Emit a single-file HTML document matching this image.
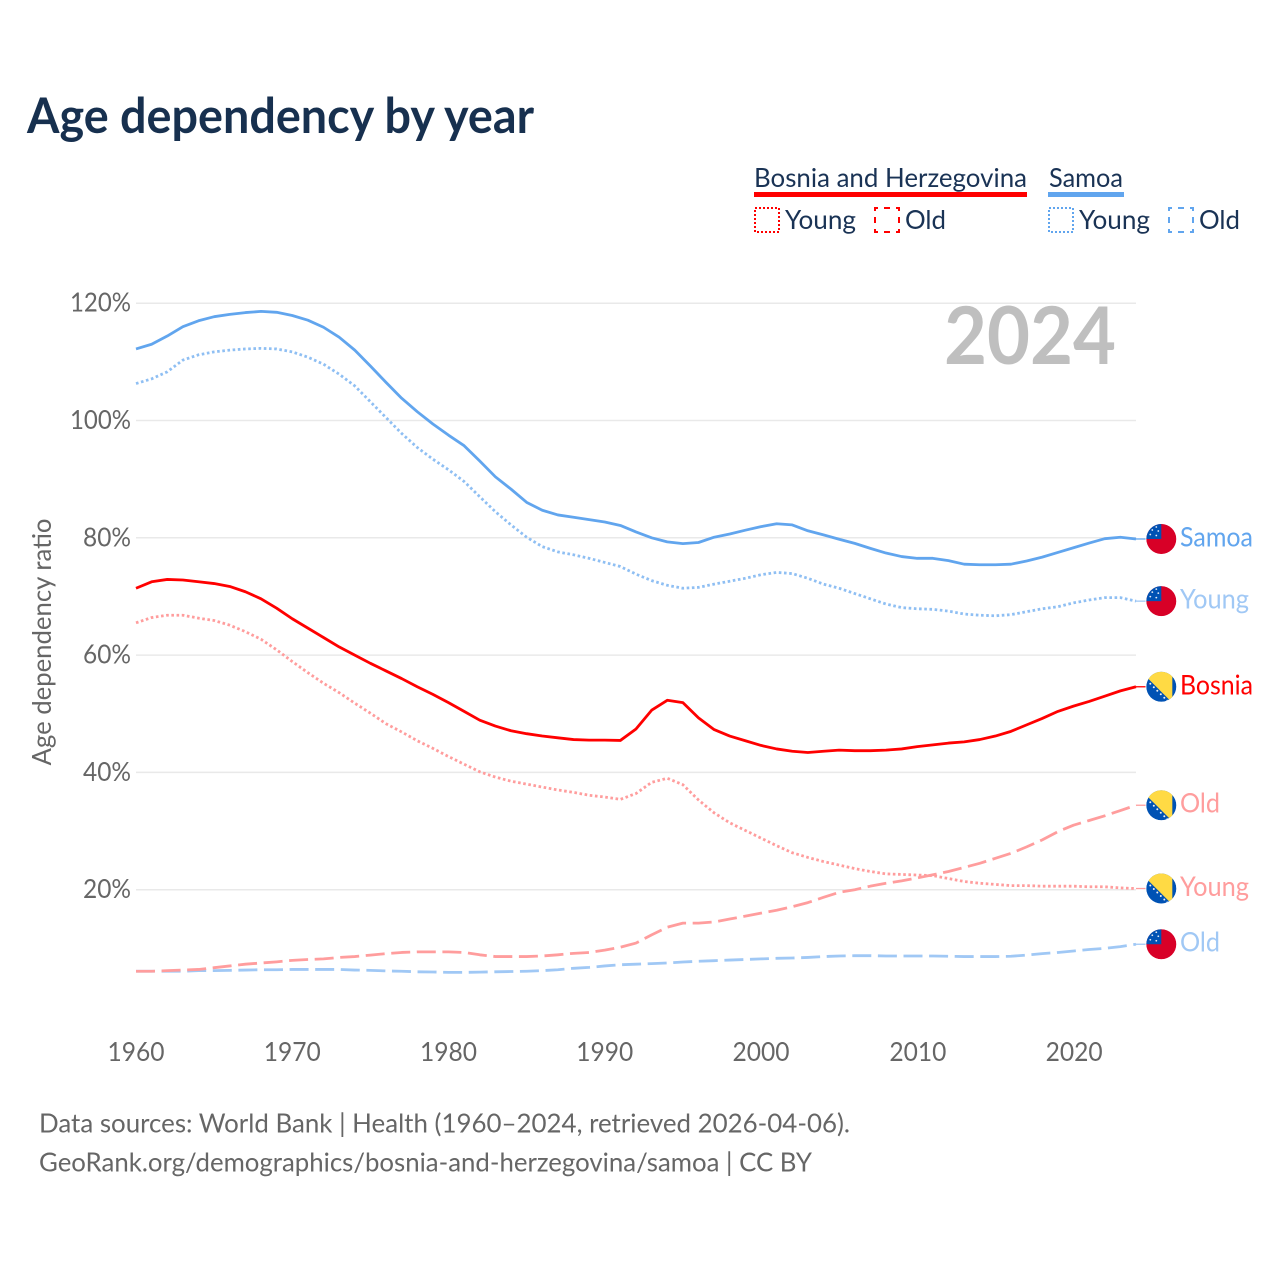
<!DOCTYPE html>
<html lang="en">
<head>
<meta charset="utf-8">
<title>Age dependency by year</title>
<style>
  html, body { margin: 0; padding: 0; background: #fff; }
  svg { display: block; font-family: "Lato", "Carlito", "Liberation Sans", "DejaVu Sans", sans-serif; }
</style>
</head>
<body>
<svg id="chart" xmlns="http://www.w3.org/2000/svg" width="1280" height="1280" viewBox="0 0 1280 1280">
  <rect x="0" y="0" width="1280" height="1280" fill="#ffffff"/>
  <text x="27" y="133" font-size="48.5" font-weight="700" fill="#17304f" textLength="507" lengthAdjust="spacingAndGlyphs">Age dependency by year</text>

  <g>
    <g>
      <text x="754" y="187" font-size="26.5" fill="#1a3355" textLength="273" lengthAdjust="spacingAndGlyphs">Bosnia and Herzegovina</text>
      <rect x="754" y="192" width="273" height="5" fill="#ff0000"/>
      <rect x="755" y="208" width="24" height="24" fill="none" stroke="#ff0000" stroke-width="2" stroke-dasharray="2 2"/>
      <text x="785" y="229" font-size="26.5" fill="#1a3355" textLength="71" lengthAdjust="spacingAndGlyphs">Young</text>
      <rect x="875" y="208" width="24" height="24" fill="none" stroke="#ff0000" stroke-width="2" stroke-dasharray="6 6" stroke-dashoffset="3"/>
      <text x="905" y="229" font-size="26.5" fill="#1a3355" textLength="41" lengthAdjust="spacingAndGlyphs">Old</text>
    </g>
    <g>
      <text x="1049" y="187" font-size="26.5" fill="#1a3355" textLength="74" lengthAdjust="spacingAndGlyphs">Samoa</text>
      <rect x="1048" y="192" width="76" height="5" fill="#61a5ee"/>
      <rect x="1049" y="208" width="24" height="24" fill="none" stroke="#61a5ee" stroke-width="2" stroke-dasharray="2 2"/>
      <text x="1079" y="229" font-size="26.5" fill="#1a3355" textLength="71" lengthAdjust="spacingAndGlyphs">Young</text>
      <rect x="1169" y="208" width="24" height="24" fill="none" stroke="#61a5ee" stroke-width="2" stroke-dasharray="6 6" stroke-dashoffset="3"/>
      <text x="1199" y="229" font-size="26.5" fill="#1a3355" textLength="41" lengthAdjust="spacingAndGlyphs">Old</text>
    </g>
  </g>

  <g id="grid"></g>
  <g id="yaxis"></g>
  <g id="xaxis"></g>
  <text transform="translate(51 642) rotate(-90)" text-anchor="middle" font-size="26.5" fill="#666666" textLength="247" lengthAdjust="spacingAndGlyphs">Age dependency ratio</text>
  <text x="1116" y="364" text-anchor="end" font-size="80" font-weight="700" fill="#bfbfbf" textLength="172" lengthAdjust="spacingAndGlyphs">2024</text>
  <g id="series"></g>
  <g id="endlabels"></g>

  <text x="39" y="1132.5" font-size="26.5" fill="#666666" textLength="811" lengthAdjust="spacingAndGlyphs">Data sources: World Bank | Health (1960–2024, retrieved 2026-04-06).</text>
  <text x="39" y="1171.5" font-size="26.5" fill="#666666" textLength="773" lengthAdjust="spacingAndGlyphs">GeoRank.org/demographics/bosnia-and-herzegovina/samoa | CC BY</text>
</svg>

<script>
const years = [
  1960,1961,1962,1963,1964,1965,1966,1967,1968,1969,
  1970,1971,1972,1973,1974,1975,1976,1977,1978,1979,
  1980,1981,1982,1983,1984,1985,1986,1987,1988,1989,
  1990,1991,1992,1993,1994,1995,1996,1997,1998,1999,
  2000,2001,2002,2003,2004,2005,2006,2007,2008,2009,
  2010,2011,2012,2013,2014,2015,2016,2017,2018,2019,
  2020,2021,2022,2023,2024
];
const bosniaTotal = [
  71.4,72.5,72.9,72.8,72.5,72.2,71.7,70.8,69.6,68.0,
  66.2,64.6,63.0,61.4,60.0,58.6,57.3,56.0,54.6,53.3,
  51.9,50.4,48.9,47.9,47.1,46.6,46.2,45.9,45.6,45.5,
  45.5,45.45,47.4,50.6,52.3,51.9,49.3,47.3,46.2,45.4,
  44.6,44.0,43.6,43.4,43.6,43.8,43.7,43.7,43.8,44.0,
  44.4,44.7,45.0,45.2,45.6,46.2,47.0,48.1,49.2,50.4,
  51.3,52.1,53.0,53.9,54.6
];
const bosniaYoung = [
  65.5,66.4,66.8,66.8,66.3,65.9,65.1,64.0,62.7,60.9,
  58.9,57.0,55.2,53.6,51.8,50.1,48.3,46.9,45.4,44.1,
  42.7,41.4,40.1,39.2,38.5,38.0,37.5,37.0,36.6,36.1,
  35.8,35.4,36.4,38.3,39.0,37.9,35.3,33.1,31.4,30.1,
  28.8,27.5,26.3,25.5,24.8,24.2,23.6,23.1,22.7,22.6,
  22.5,22.4,21.9,21.4,21.1,20.9,20.7,20.7,20.6,20.6,
  20.6,20.5,20.5,20.3,20.2
];
const bosniaOld = [
  6.1,6.1,6.2,6.3,6.4,6.7,7.0,7.3,7.5,7.7,
  7.95,8.1,8.2,8.45,8.6,8.85,9.1,9.3,9.4,9.4,
  9.4,9.3,8.9,8.6,8.6,8.6,8.7,8.9,9.15,9.3,
  9.7,10.2,10.9,12.3,13.6,14.3,14.3,14.5,15.0,15.5,
  16.0,16.5,17.1,17.8,18.7,19.55,20.0,20.6,21.1,21.5,
  22.0,22.55,23.1,23.8,24.5,25.35,26.2,27.3,28.5,29.9,
  31.0,31.8,32.6,33.5,34.4
];
const samoaTotal = [
  112.2,113.0,114.4,116.0,117.0,117.7,118.1,118.4,118.6,118.45,
  117.9,117.1,115.9,114.2,112.0,109.3,106.5,103.8,101.5,99.4,
  97.5,95.7,93.1,90.4,88.3,86.05,84.7,83.9,83.5,83.1,
  82.7,82.1,81.0,80.0,79.3,79.0,79.2,80.1,80.65,81.3,
  81.9,82.4,82.2,81.2,80.5,79.75,79.05,78.2,77.4,76.8,
  76.5,76.5,76.1,75.5,75.4,75.4,75.5,76.05,76.7,77.5,
  78.3,79.1,79.85,80.1,79.8
];
const samoaYoung = [
  106.3,107.1,108.3,110.3,111.2,111.7,112.0,112.2,112.3,112.2,
  111.7,110.8,109.6,107.9,105.9,103.2,100.5,97.8,95.4,93.4,
  91.6,89.6,87.0,84.45,82.2,80.1,78.5,77.6,77.1,76.5,
  75.8,75.1,73.8,72.7,71.9,71.4,71.55,72.1,72.6,73.1,
  73.7,74.1,73.9,73.1,72.1,71.4,70.5,69.6,68.7,68.1,
  67.9,67.8,67.5,67.0,66.8,66.7,66.9,67.4,67.9,68.25,
  68.9,69.4,69.8,69.8,69.2
];
const samoaOld = [
  6.1,6.1,6.1,6.1,6.2,6.2,6.25,6.3,6.35,6.35,
  6.4,6.4,6.4,6.4,6.3,6.25,6.15,6.1,6.0,5.97,
  5.9,5.9,5.95,6.0,6.05,6.1,6.2,6.35,6.6,6.75,
  7.0,7.2,7.3,7.4,7.5,7.67,7.8,7.9,8.0,8.1,
  8.2,8.3,8.35,8.45,8.6,8.7,8.75,8.75,8.7,8.7,
  8.7,8.7,8.65,8.6,8.6,8.6,8.65,8.85,9.1,9.3,
  9.55,9.8,10.0,10.3,10.7
];
const xTickValues = [1960,1970,1980,1990,2000,2010,2020];
const yTickValues = [20,40,60,80,100,120];

const NS = 'http://www.w3.org/2000/svg';
function xScale(year) { return 136 + (year - 1960) * 15.625; }
function yScale(value) { return 1007 - 5.865 * value; }
function make(tag, attrs, parent, text) {
  const el = document.createElementNS(NS, tag);
  for (const k in attrs) el.setAttribute(k, attrs[k]);
  if (text !== undefined) el.textContent = text;
  parent.appendChild(el);
  return el;
}

/* grid + axes */
const gridGroup = document.getElementById('grid');
const yAxisGroup = document.getElementById('yaxis');
const xAxisGroup = document.getElementById('xaxis');
yTickValues.forEach(function (t) {
  const line = make('line', { x1: 136, x2: 1136, y1: yScale(t), y2: yScale(t), stroke: '#e9e9e9', 'stroke-width': 1.5 }, gridGroup);
  
  
  const label = t + '%';
  const tick = make('text', { x: 131, y: yScale(t) + 8.5, 'text-anchor': 'end', 'font-size': 26.5, fill: '#666666', textLength: label.length === 3 ? 48 : 61, lengthAdjust: 'spacingAndGlyphs' }, yAxisGroup, label);
  
  
});
xTickValues.forEach(function (t) {
  const tick = make('text', { x: xScale(t) + (t >= 2010 ? 0.6 : 0), y: 1061, 'text-anchor': 'middle', 'font-size': 26.5, fill: '#666666', textLength: 57, lengthAdjust: 'spacingAndGlyphs' }, xAxisGroup, String(t));
  
  
});

/* series */
const seriesGroup = document.getElementById('series');
const labelGroup = document.getElementById('endlabels');

function drawSeries(name, values, color, width, dash) {
  const pts = values.map(function (v, i) { return xScale(years[i]).toFixed(2) + ',' + yScale(v).toFixed(2); }).join(' ');
  const attrs = { points: pts, fill: 'none', stroke: color, 'stroke-width': width, 'stroke-linejoin': 'round' };
  if (dash) attrs['stroke-dasharray'] = dash;
  const line = make('polyline', attrs, seriesGroup);
  
  
}

function drawFlag(parent, kind, cx, cy, id) {
  const g = make('g', { transform: 'translate(' + cx + ' ' + cy + ')' }, parent);
  
  
  const clip = make('clipPath', { id: 'clip-' + id }, g);
  make('circle', { cx: 0, cy: 0, r: 15 }, clip);
  const inner = make('g', { 'clip-path': 'url(#clip-' + id + ')' }, g);
  if (kind === 'samoa') {
    make('rect', { x: -16, y: -16, width: 32, height: 32, fill: '#d80027' }, inner);
    make('rect', { x: -16, y: -16, width: 16, height: 16, fill: '#0052b4' }, inner);
    [[-9, -9], [-5, -12], [-3, -8], [-11, -4.5], [-5, -3.5]].forEach(function (p) {
      make('circle', { cx: p[0], cy: p[1], r: 0.9, fill: '#e6ecf5' }, inner);
    });
  } else {
    make('rect', { x: -16, y: -16, width: 32, height: 32, fill: '#0052b4' }, inner);
    make('polygon', { points: '-23,-18 11,16 11,-18', fill: '#ffda44' }, inner);
    [[-11, -3], [-7.5, 0.5], [-4, 4], [-0.5, 7.5], [3, 11], [6, 14]].forEach(function (p) {
      make('circle', { cx: p[0], cy: p[1], r: 1, fill: '#f0f0f0' }, inner);
    });
  }
  make('circle', { cx: 0, cy: 0, r: 15.5, fill: 'none', stroke: '#ffffff', 'stroke-width': 0.8, opacity: 0.8 }, g);
}

function drawEnd(id, values, color, kind, text, textWidth) {
  const last = values[values.length - 1];
  const cy = yScale(last);
  const x0 = xScale(years[years.length - 1]);
  const conn = make('line', { x1: x0, y1: cy, x2: 1146, y2: cy, stroke: color, 'stroke-width': 1.3 }, labelGroup);
  
  
  drawFlag(labelGroup, kind, 1161.3, cy, id);
  const label = make('text', { x: 1180, y: cy + 7.5, 'font-size': 27, fill: color, textLength: textWidth, lengthAdjust: 'spacingAndGlyphs' }, labelGroup, text);
  
  
}

const RED = '#ff0000', BLUE = '#61a5ee', RED_L = '#ff9d9d', BLUE_L = '#a0c8f5';
const DOT = '2.6 2.6', DASH = '19 6.6';

drawSeries('samoa-old', samoaOld, BLUE_L, 2.8, DASH);
drawSeries('bosnia-old', bosniaOld, RED_L, 2.8, DASH);
drawSeries('bosnia-young', bosniaYoung, RED_L, 2.8, DOT);
drawSeries('samoa-young', samoaYoung, '#8fbff3', 2.8, DOT);
drawSeries('bosnia-total', bosniaTotal, RED, 2.8);
drawSeries('samoa-total', samoaTotal, BLUE, 2.8);

drawEnd('samoa-total', samoaTotal, BLUE, 'samoa', 'Samoa', 73);
drawEnd('samoa-young', samoaYoung, BLUE_L, 'samoa', 'Young', 69);
drawEnd('bosnia-total', bosniaTotal, RED, 'bosnia', 'Bosnia', 73);
drawEnd('bosnia-old', bosniaOld, RED_L, 'bosnia', 'Old', 40);
drawEnd('bosnia-young', bosniaYoung, RED_L, 'bosnia', 'Young', 69);
drawEnd('samoa-old', samoaOld, BLUE_L, 'samoa', 'Old', 40);
</script>
</body>
</html>
